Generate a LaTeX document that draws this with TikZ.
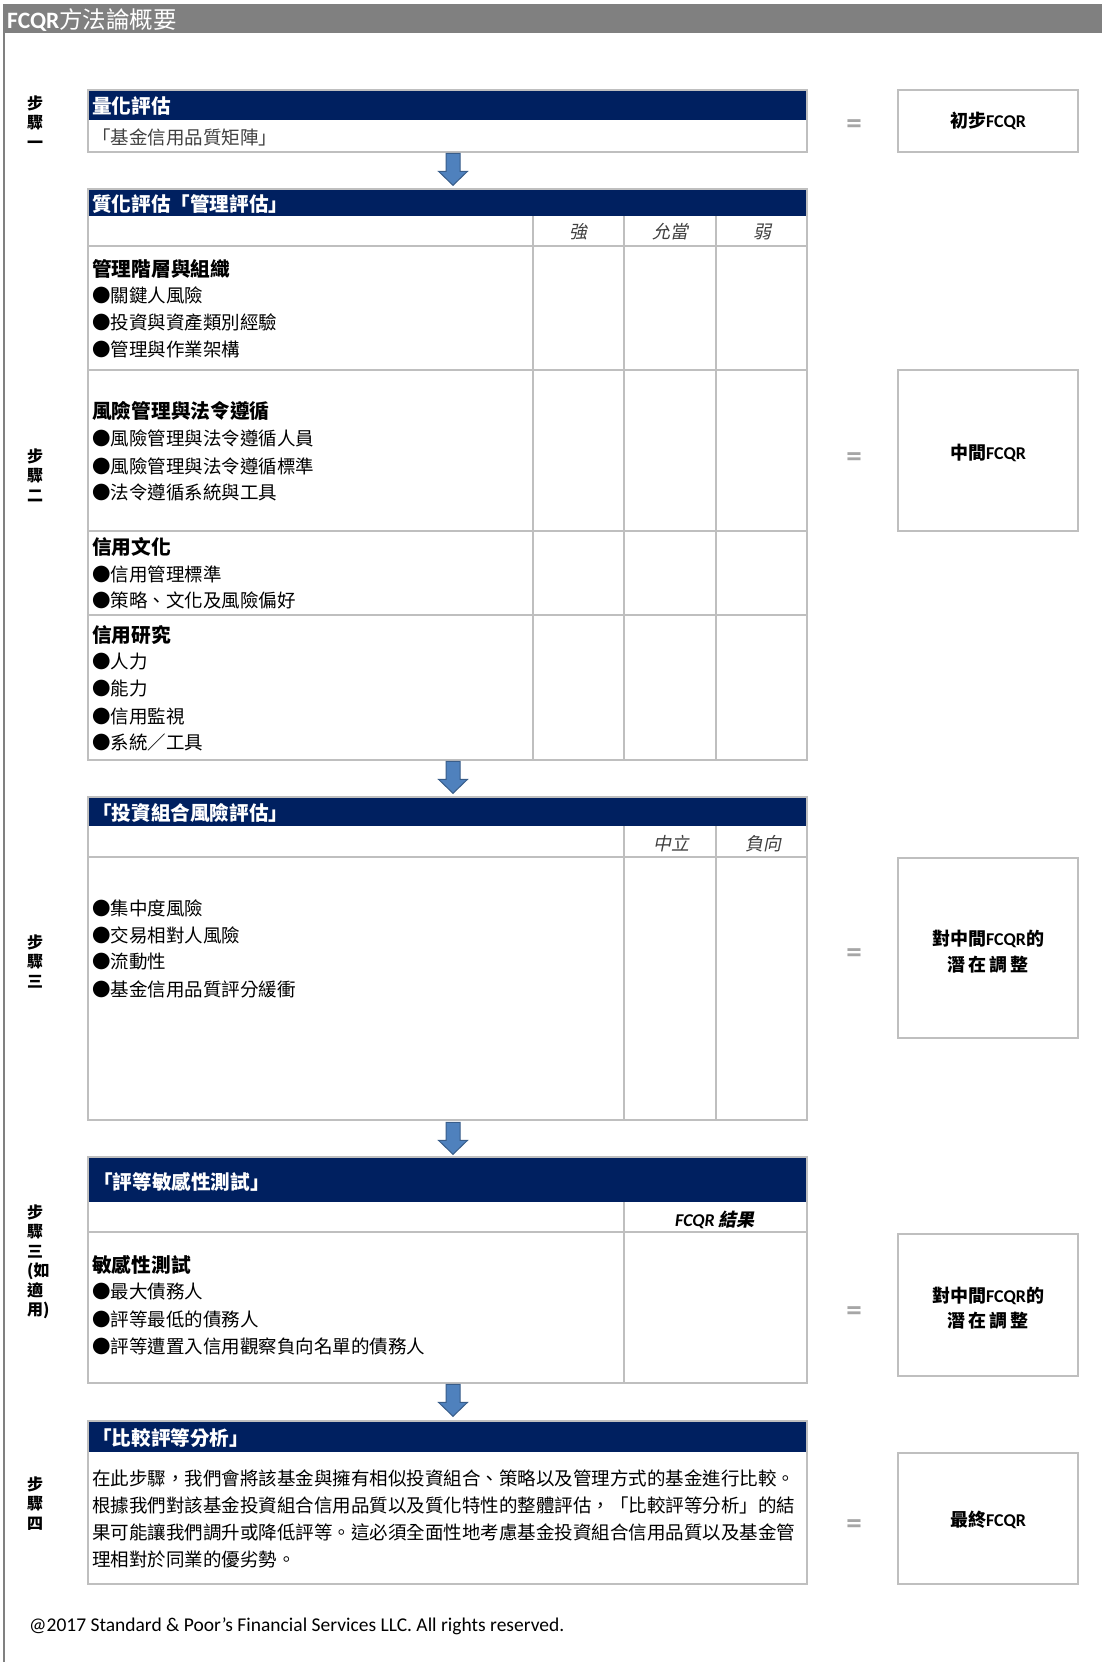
\documentclass[tikz,border=0pt]{standalone}
\usepackage{fontspec}
\setmainfont{Carlito}
\newfontfamily\cjk{Noto Sans CJK TC}
\newfontfamily\cjkit{Noto Sans CJK TC}[FakeSlant=0.2]
\usetikzlibrary{fit}
\definecolor{navy}{HTML}{002060}
\definecolor{boxgray}{HTML}{BFBFBF}
\definecolor{titlegray}{HTML}{808080}
\definecolor{eqgray}{HTML}{A6A6A6}
\definecolor{coltext}{HTML}{404040}
\definecolor{arrowfill}{HTML}{4F81BD}
\definecolor{arrowdraw}{HTML}{385D8A}
\tikzset{
  bodytxt/.style={anchor=west, inner sep=0pt, font=\cjk\fontsize{18.5}{22}\selectfont},
  sectxt/.style={anchor=west, inner sep=0pt, font=\cjk\bfseries\fontsize{19.7}{23}\selectfont},
  headtxt/.style={anchor=west, inner sep=0pt, text=white, font=\cjk\bfseries\fontsize{19.6}{22}\selectfont},
  coltxt/.style={inner sep=0pt, text=coltext, font=\cjkit\fontsize{18}{22}\selectfont},
  lbltxt/.style={anchor=west, inner sep=0pt, align=left, font=\cjk\bfseries\fontsize{16}{19.5}\selectfont},
  restxt/.style={inner sep=0pt, align=center, font=\bfseries\fontsize{18}{25.5}\selectfont},
  eqtxt/.style={inner sep=0pt, text=eqgray, font=\bfseries\fontsize{31}{33}\selectfont},
  gridline/.style={draw=boxgray, line width=2.6pt},
  boxframe/.style={draw=boxgray, line width=2.6pt, inner sep=0pt},
  downarr/.pic={\draw[draw=arrowdraw, fill=arrowfill, line width=1pt, line join=miter]
     (-7,0) -- (7,0) -- (7,18) -- (14.5,18) -- (0,32) -- (-14.5,18) -- (-7,18) -- cycle;}
}
\begin{document}
\begin{tikzpicture}[x=1pt,y=-1pt]
\fill[white] (0,0) rectangle (1102,1662);
\path[use as bounding box] (0,0) rectangle (1102,1662);
% title bar and left rule
\fill[titlegray] (3,4) rectangle (1102,33);
\draw[titlegray, line width=2pt] (4,33) -- (4,1662);
\node[anchor=base west, inner sep=0pt, text=white, font=\fontsize{23.5}{25}\selectfont] (title) at (7,29) {\textbf{FCQR}{\cjk 方法論概要}};

% header fills
\fill[navy] (88,90) rectangle (807,119.5);
\fill[navy] (88,189) rectangle (807,216);
\fill[navy] (88,797) rectangle (807,826);
\fill[navy] (88,1157) rectangle (807,1202);
\fill[navy] (88,1421) rectangle (807,1452);

% grid lines
\draw[gridline] (88,246) -- (807,246);
\draw[gridline] (88,370) -- (807,370);
\draw[gridline] (88,531) -- (807,531);
\draw[gridline] (88,615) -- (807,615);
\draw[gridline] (533,216) -- (533,760);
\draw[gridline] (624,216) -- (624,760);
\draw[gridline] (716,216) -- (716,760);
\draw[gridline] (88,857) -- (807,857);
\draw[gridline] (624,826) -- (624,1120);
\draw[gridline] (716,826) -- (716,1120);
\draw[gridline] (88,1232) -- (807,1232);
\draw[gridline] (624,1202) -- (624,1383);

% frames
\node[boxframe, fit={(88,90) (807,152)}] (b1) {};
\node[boxframe, fit={(88,189) (807,760)}] (b2) {};
\node[boxframe, fit={(88,797) (807,1120)}] (b3) {};
\node[boxframe, fit={(88,1157) (807,1383)}] (b4) {};
\node[boxframe, fit={(88,1421) (807,1584)}] (b5) {};
\node[boxframe, fit={(898,90) (1078,152)}] (r1) {};
\node[boxframe, fit={(898,370) (1078,531)}] (r2) {};
\node[boxframe, fit={(898,858) (1078,1038)}] (r3) {};
\node[boxframe, fit={(898,1234) (1078,1376)}] (r4) {};
\node[boxframe, fit={(898,1453) (1078,1584)}] (r5) {};

% arrows
\pic at ([xshift=5.5pt]b1.south) {downarr};
\pic at ([xshift=5.5pt]b2.south) {downarr};
\pic at ([xshift=5.5pt,yshift=-1pt]b3.south) {downarr};
\pic at ([xshift=5.5pt]b4.south) {downarr};

% step labels
\node[lbltxt] (l1) at (27,122) {步\\驟\\一};
\node[lbltxt] (l2) at (27,475) {步\\驟\\二};
\node[lbltxt] (l3) at (27,961) {步\\驟\\三};
\node[lbltxt] (l4) at (27,1262) {步\\驟\\三\\(如\\適\\用)};
\node[lbltxt] (l5) at (27,1503.5) {步\\驟\\四};

% equals signs
\node[eqtxt] (e1) at (854,127) {=};
\node[eqtxt] (e2) at (854,460) {=};
\node[eqtxt] (e3) at (854,955.5) {=};
\node[eqtxt] (e4) at (854,1313.5) {=};
\node[eqtxt] (e5) at (854,1526.5) {=};

% result texts
\node[restxt] (t1) at (r1.center) {{\cjk 初步}FCQR};
\node[restxt] (t2) at ([yshift=-2pt]r2.center) {{\cjk 中間}FCQR};
\node[restxt] (t3) at ([yshift=-3.5pt]r3.center) {{\cjk 對中間}FCQR{\cjk 的}\\{\cjk 潛\hspace{3pt}在\hspace{3pt}調\hspace{3pt}整}};
\node[restxt] (t4) at ([yshift=-3pt]r4.center) {{\cjk 對中間}FCQR{\cjk 的}\\{\cjk 潛\hspace{3pt}在\hspace{3pt}調\hspace{3pt}整}};
\node[restxt] (t5) at ([yshift=-1pt]r5.center) {{\cjk 最終}FCQR};

% step 1
\node[headtxt] (h1) at (92,106) {量化評估};
\node[bodytxt, text=coltext] (s1a) at (92,137.5) {「基金信用品質矩陣」};

% step 2
\node[headtxt] (h2) at (92,204) {質化評估「管理評估」};
\node[coltxt] (c21) at (578.5,231.5) {強};
\node[coltxt] (c22) at (670,231.5) {允當};
\node[coltxt] (c23) at (762,231.5) {弱};
\node[sectxt] (g1) at (92,269) {管理階層與組織};
\node[bodytxt] (g1a) at (92,295.6) {●關鍵人風險};
\node[bodytxt] (g1b) at (92,322) {●投資與資產類別經驗};
\node[bodytxt] (g1c) at (92,349.6) {●管理與作業架構};
\node[sectxt] (g2) at (92,411) {風險管理與法令遵循};
\node[bodytxt] (g2a) at (92,438.7) {●風險管理與法令遵循人員};
\node[bodytxt] (g2b) at (92,466.2) {●風險管理與法令遵循標準};
\node[bodytxt] (g2c) at (92,492.7) {●法令遵循系統與工具};
\node[sectxt] (g3) at (92,546.8) {信用文化};
\node[bodytxt] (g3a) at (92,574.3) {●信用管理標準};
\node[bodytxt] (g3b) at (92,600.8) {●策略、文化及風險偏好};
\node[sectxt] (g4) at (92,634.7) {信用研究};
\node[bodytxt] (g4a) at (92,661.2) {●人力};
\node[bodytxt] (g4b) at (92,688.7) {●能力};
\node[bodytxt] (g4c) at (92,716.3) {●信用監視};
\node[bodytxt] (g4d) at (92,742.8) {●系統／工具};

% step 3
\node[headtxt] (h3) at (92,812.7) {「投資組合風險評估」};
\node[coltxt] (c31) at (671.8,843.4) {中立};
\node[coltxt] (c32) at (763,843.4) {負向};
\node[bodytxt] (p1) at (92,908) {●集中度風險};
\node[bodytxt] (p2) at (92,935.6) {●交易相對人風險};
\node[bodytxt] (p3) at (92,962) {●流動性};
\node[bodytxt] (p4) at (92,989.7) {●基金信用品質評分緩衝};

% step 3 (if applicable)
\node[headtxt] (h4) at (93,1181.5) {「評等敏感性測試」};
\node[coltxt, font=\bfseries\itshape\fontsize{18}{22}\selectfont, text=black] (c41) at (715,1219.6) {FCQR {\cjkit 結果}};
\node[sectxt] (k0) at (92,1265) {敏感性測試};
\node[bodytxt] (k1) at (92,1291.7) {●最大債務人};
\node[bodytxt] (k2) at (92,1319.2) {●評等最低的債務人};
\node[bodytxt] (k3) at (92,1346.8) {●評等遭置入信用觀察負向名單的債務人};

% step 4
\node[headtxt] (h5) at (92,1437.9) {「比較評等分析」};
\node[bodytxt] (q1) at (92,1478.1) {在此步驟，我們會將該基金與擁有相似投資組合、策略以及管理方式的基金進行比較。};
\node[bodytxt] (q2) at (92,1505.7) {根據我們對該基金投資組合信用品質以及質化特性的整體評估，「比較評等分析」的結};
\node[bodytxt] (q3) at (92,1532.2) {果可能讓我們調升或降低評等。這必須全面性地考慮基金投資組合信用品質以及基金管};
\node[bodytxt] (q4) at (92,1559.7) {理相對於同業的優劣勢。};

% footer
\node[anchor=west, inner sep=0pt, font=\fontsize{19.5}{22}\selectfont] (foot) at (29,1626) {@2017 Standard \& Poor’s Financial Services LLC. All rights reserved.};
\end{tikzpicture}
\end{document}
